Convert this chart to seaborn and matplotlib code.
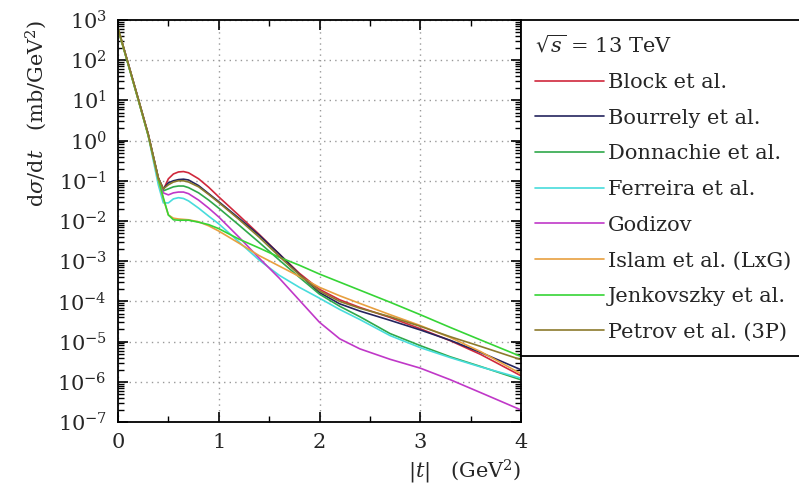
import numpy as np
import pandas as pd
import matplotlib
matplotlib.use("Agg")
import matplotlib.pyplot as plt
import seaborn as sns
from matplotlib.ticker import LogLocator, MultipleLocator, NullFormatter

# |t| grid (GeV^2) and log10 of dsigma/dt (mb/GeV^2)
t = [0, 0.1, 0.2, 0.3, 0.4, 0.45, 0.5, 0.55, 0.6, 0.65, 0.7, 0.8, 0.9, 1.0,
     1.2, 1.4, 1.6, 1.8, 2.0, 2.2, 2.4, 2.7, 3.0, 3.3, 3.6, 4.0]

block = [2.80, 1.93, 1.05, 0.16, -0.92, -1.22, -0.95, -0.83, -0.78, -0.77, -0.80, -0.95, -1.16, -1.40,
         -1.86, -2.33, -2.82, -3.30, -3.70, -3.96, -4.15, -4.40, -4.68, -4.98, -5.32, -5.85]
bourrely = [2.79, 1.92, 1.04, 0.15, -0.93, -1.20, -1.05, -1.00, -0.97, -0.96, -0.98, -1.12, -1.32, -1.52,
            -1.93, -2.35, -2.82, -3.33, -3.78, -4.06, -4.24, -4.47, -4.71, -4.97, -5.27, -5.70]
donnachie = [2.78, 1.91, 1.03, 0.14, -0.95, -1.25, -1.20, -1.15, -1.13, -1.13, -1.17, -1.30, -1.48, -1.68,
             -2.10, -2.53, -2.97, -3.40, -3.82, -4.12, -4.38, -4.80, -5.10, -5.38, -5.62, -5.95]
ferreira = [2.78, 1.90, 1.02, 0.12, -1.10, -1.55, -1.55, -1.45, -1.42, -1.44, -1.50, -1.68, -1.88, -2.07,
            -2.52, -2.97, -3.35, -3.65, -3.92, -4.20, -4.45, -4.85, -5.15, -5.40, -5.63, -5.91]
godizov = [2.79, 1.92, 1.03, 0.14, -0.97, -1.30, -1.35, -1.30, -1.28, -1.28, -1.32, -1.48, -1.68, -1.90,
           -2.40, -2.92, -3.42, -3.97, -4.52, -4.93, -5.18, -5.44, -5.66, -5.95, -6.27, -6.70]
islam = [2.77, 1.90, 1.02, 0.12, -0.98, -1.45, -1.85, -1.93, -1.95, -1.96, -1.97, -2.02, -2.12, -2.25,
         -2.55, -2.86, -3.12, -3.38, -3.65, -3.86, -4.05, -4.33, -4.60, -4.90, -5.25, -5.80]
jenkovszky = [2.79, 1.91, 1.03, 0.13, -0.95, -1.42, -1.85, -1.97, -1.98, -1.98, -1.98, -2.03, -2.09, -2.19,
              -2.45, -2.67, -2.90, -3.10, -3.32, -3.52, -3.72, -4.02, -4.33, -4.65, -4.96, -5.37]
petrov = [2.80, 1.93, 1.05, 0.16, -0.93, -1.20, -1.10, -1.03, -1.00, -1.00, -1.03, -1.15, -1.34, -1.54,
          -1.96, -2.40, -2.88, -3.34, -3.74, -4.00, -4.17, -4.38, -4.62, -4.88, -5.12, -5.45]

models = ["Block et al.", "Bourrely et al.", "Donnachie et al.", "Ferreira et al.",
          "Godizov", "Islam et al. (LxG)", "Jenkovszky et al.", "Petrov et al. (3P)"]
series = [block, bourrely, donnachie, ferreira, godizov, islam, jenkovszky, petrov]
colors = ["#d0283c", "#24245e", "#2fa84a", "#48dcdc", "#c038c8", "#e8a040", "#36d436", "#8c7a2c"]

rows = []
for m, s in zip(models, series):
    for ti, lv in zip(t, s):
        rows.append({"t": ti, "dsdt": 10.0 ** lv, "model": m})
df = pd.DataFrame(rows)

sns.set_style("ticks")
plt.rcParams["font.family"] = ["DejaVu Serif"]
plt.rcParams["mathtext.fontset"] = "dejavuserif"
plt.rcParams["font.size"] = 15

fig = plt.figure(figsize=(7.99, 4.93), dpi=100)
ax = fig.add_axes([118 / 799, 1 - 422 / 493, (521 - 118) / 799, (422 - 20) / 493])

for m, c in zip(models, colors):
    sns.lineplot(data=df[df["model"] == m], x="t", y="dsdt", color=c, lw=1.2,
                 label=m, ax=ax, legend=False)

ax.set_yscale("log")
ax.set_xlim(0, 4)
ax.set_ylim(1e-7, 1e3)
ax.set_xticks([0, 1, 2, 3, 4])
ax.set_xticklabels(["0", "1", "2", "3", "4"])
ax.xaxis.set_minor_locator(MultipleLocator(0.5))
ax.set_yticks([10.0 ** k for k in range(-7, 4)])
ax.yaxis.set_minor_locator(LogLocator(base=10, subs=np.arange(2, 10), numticks=100))
ax.yaxis.set_minor_formatter(NullFormatter())

ax.grid(True, which="major", color="#999999", linestyle=(0, (1, 3)), linewidth=1.0)
ax.tick_params(which="both", direction="in", top=True, right=True, labelsize=15, color="black")
ax.tick_params(which="major", length=7, width=1.2, pad=8)
ax.tick_params(which="minor", length=4, width=1.0)
for sp in ax.spines.values():
    sp.set_linewidth(1.3)
    sp.set_color("black")

ax.set_ylabel(r"$\mathrm{d}\sigma/\mathrm{d}t$   (mb/GeV$^2$)", loc="top", fontsize=15, labelpad=6)
ax.set_xlabel(r"$|t|$   (GeV$^2$)", loc="right", fontsize=15, labelpad=4)

handles, labels = ax.get_legend_handles_labels()
leg = ax.legend(handles, labels, title=r"$\sqrt{s}$ = 13 TeV", loc="upper left",
                bbox_to_anchor=(1.0, 0.0, 0.72, 1.0), mode="expand", borderaxespad=0,
                frameon=True, fancybox=False, edgecolor="black", framealpha=1,
                fontsize=15, title_fontsize=15, handlelength=3.3, handletextpad=0.2,
                labelspacing=0.8, alignment="left", borderpad=0.68)
leg.get_frame().set_linewidth(1.3)
for ln in leg.get_lines():
    ln.set_linewidth(1.2)

fig.savefig("out.png", dpi=100)
